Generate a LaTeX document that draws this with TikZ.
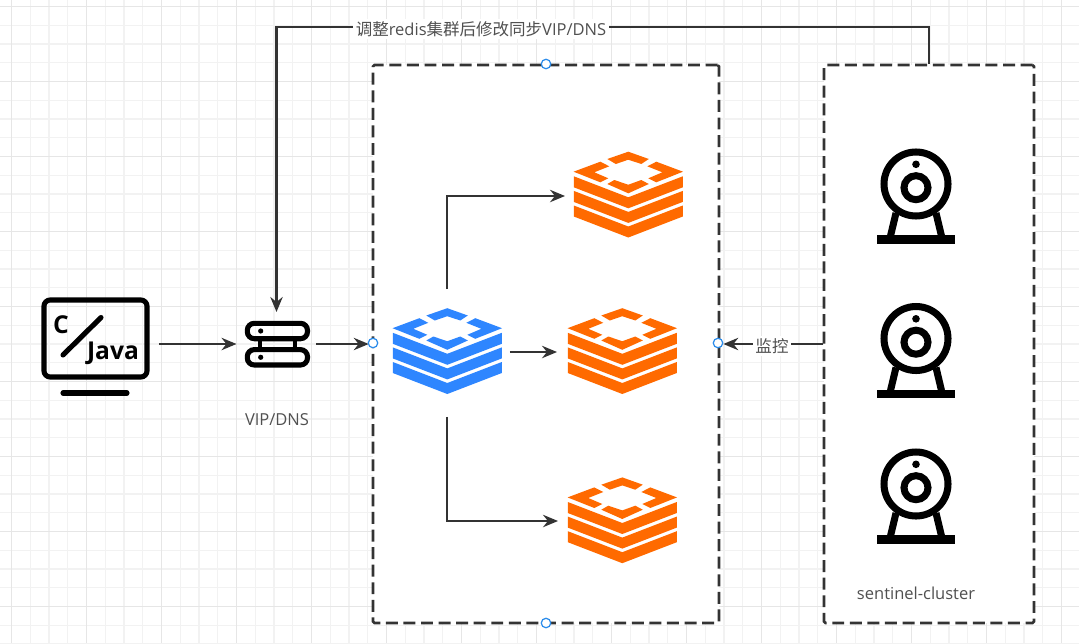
\documentclass[tikz,border=0pt]{standalone}
\usepackage{fontspec}
\setmainfont{Open Sans}
\newfontfamily\cjk{Noto Sans CJK SC}
\usetikzlibrary{positioning,arrows.meta}
\definecolor{linegray}{HTML}{333333}
\definecolor{textgray}{HTML}{505050}
\definecolor{gridminor}{HTML}{F2F2F2}
\definecolor{gridmajor}{HTML}{E6E6E6}
\definecolor{redisblue}{HTML}{2E86FF}
\definecolor{redisorange}{HTML}{FF6A00}
\definecolor{handleblue}{HTML}{2B8CEB}
\tikzset{
  link/.style={->,>={Stealth[length=8.5pt,width=7pt]},draw=linegray,line width=1.4pt},
  dashbox/.style={draw=linegray,fill=white,line width=1.5pt,dash pattern=on 6.8pt off 3.2pt,rounded corners=.8pt,minimum height=11.16cm},
  iconbox/.style={inner sep=0pt,outer sep=0pt},
  caption/.style={text=textgray,font=\fontsize{9.4}{11}\selectfont,inner sep=1.5pt},
  icontext/.style={inner sep=0pt,font=\bfseries\fontsize{14}{16}\selectfont},
  handle/.style={circle,draw=handleblue,fill=white,line width=.7pt,minimum size=.19cm,inner sep=0pt},
  redisicon/.pic={
    \fill[#1] (-21,-35) -- (0,-42.3) -- (20.5,-35) -- (13,-30) -- (0,-34.3) -- (-12.5,-30) -- cycle;
    \fill[#1] (-21,-10) -- (-14,-14) -- (0,-9.3) -- (13,-14) -- (20.5,-10) -- (0,-.7) -- cycle;
    \fill[#1] (-54.7,-22.3) -- (-28,-32.3) -- (-19,-27.7) -- (-34,-21.7) -- (-20,-15.7) -- (-28,-11.7) -- cycle;
    \fill[#1] (54.7,-22.3) -- (28,-32.3) -- (19,-27.7) -- (34,-21.7) -- (20,-15.7) -- (28,-11.7) -- cycle;
    \foreach \dy in {0,14.6,29.2}
      \fill[#1] (-54.5,-17.7+\dy) -- (0,3.3+\dy) -- (54.5,-17.7+\dy) -- (54.5,-6.7+\dy) -- (0,14.3+\dy) -- (-54.5,-6.7+\dy) -- cycle;
  },
  camicon/.pic={
    \draw[line width=4pt] (0,0) circle (32);
    \draw[line width=4pt] (0,3.7) circle (12);
    \fill (0,-19.7) circle (3.8);
    \draw[line width=4pt] (-20,29) -- (-25.5,52);
    \draw[line width=4pt] (20,29) -- (25.5,52);
    \fill (-39,51) rectangle (39,59.5);
  }
}
\begin{document}
\begin{tikzpicture}[x=.02cm,y=-.02cm]
  \useasboundingbox (0,0) rectangle (1079,643);
  % grid
  \foreach \k in {0,...,58} \draw[gridminor,line width=.6pt] (11.5+18.75*\k,0) -- (11.5+18.75*\k,643);
  \foreach \k in {0,...,34} \draw[gridminor,line width=.6pt] (0,6.5+18.75*\k) -- (1079,6.5+18.75*\k);
  \foreach \k in {0,...,14} \draw[gridmajor,line width=.6pt] (11.5+75*\k,0) -- (11.5+75*\k,643);
  \foreach \k in {0,...,8} \draw[gridmajor,line width=.6pt] (0,6.5+75*\k) -- (1079,6.5+75*\k);

  \node[dashbox,minimum width=6.92cm] (cluster) at (546,344) {};
  \node[dashbox,minimum width=4.2cm] (sentinel) at (929,344) {};

  \node[iconbox,minimum width=2.18cm,minimum height=1.88cm] (client) at (95.5,344) {};
  \node[iconbox,minimum width=1.3cm,minimum height=.92cm] (vip) at (277,344) {};
  \node[iconbox,minimum width=2.2cm,minimum height=1.72cm] (master) at (447,352) {};
  \node[iconbox,minimum width=2.2cm,minimum height=1.72cm] (slavea) at (628,196) {};
  \node[iconbox,minimum width=2.2cm,minimum height=1.72cm] (slaveb) at (622,352) {};
  \node[iconbox,minimum width=2.2cm,minimum height=1.72cm] (slavec) at (622,521) {};

  \pic at (447.3,350.5) {redisicon=redisblue};
  \pic at (628.3,194) {redisicon=redisorange};
  \pic at (622.3,350.5) {redisicon=redisorange};
  \pic at (622.3,519.7) {redisicon=redisorange};
  \pic at (916,184) {camicon};
  \pic at (916,338.5) {camicon};
  \pic at (916,484) {camicon};

  % client
  \draw[line width=2.9pt,rounded corners=3.5pt] (44,300) rectangle (147,377);
  \draw[line width=2.9pt,line cap=round] (63,393) -- (127,393);
  \draw[line width=2.9pt,line cap=round] (63,355) -- (101,317.5);
  \node[icontext] (ctext) at (61,324.5) {C};
  \node[icontext] (jtext) at (113,353) {Java};

  % vip
  \draw[line width=2.9pt,rounded corners=4pt] (247.3,323.3) rectangle (307.5,338.7);
  \draw[line width=2.9pt,rounded corners=4pt] (247.3,349.6) rectangle (307.5,365);
  \draw[line width=2.6pt] (260,340) -- (260,348);
  \draw[line width=2.6pt] (295,340) -- (295,348);
  \fill (260.7,331) circle (2.6);
  \fill (260.7,357.3) circle (2.6);

  \draw[link,shorten <=.18cm,shorten >=.16cm] (client.east) -- (vip.west);
  \draw[link,shorten <=.14cm,shorten >=.06cm] (vip.east) -- (cluster.west);
  \draw[link,shorten <=.4cm,shorten >=.16cm] (master.north) |- (slavea.west);
  \draw[link,shorten <=.16cm,shorten >=.2cm] (master.east) -- (slaveb.west);
  \draw[link,shorten <=.44cm,shorten >=.18cm] (master.south) |- (slavec.west);
  \draw[link,shorten >=.06cm] (sentinel.west) -- (cluster.east);
  \coordinate (turn) at (276.5,27);
  \draw[link,shorten >=.18cm] (sentinel.north) |- (turn) -- (turn |- vip.north);

  \node[caption,fill=white] (synclabel) at (481,29) {{\cjk 调整}redis{\cjk 集群后修改同步}VIP/DNS};
  \node[caption,fill=white] (watchlabel) at (772,346) {\cjk 监控};
  \node[caption] (viplabel) at (277,420) {VIP/DNS};
  \node[caption] (sentinellabel) at (916,593) {sentinel-cluster};

  \node[handle] (handletop) at (546,64) {};
  \node[handle] (handleleft) at (373,343) {};
  \node[handle] (handleright) at (718,343) {};
  \node[handle] (handlebottom) at (546,623) {};
\end{tikzpicture}
\end{document}
